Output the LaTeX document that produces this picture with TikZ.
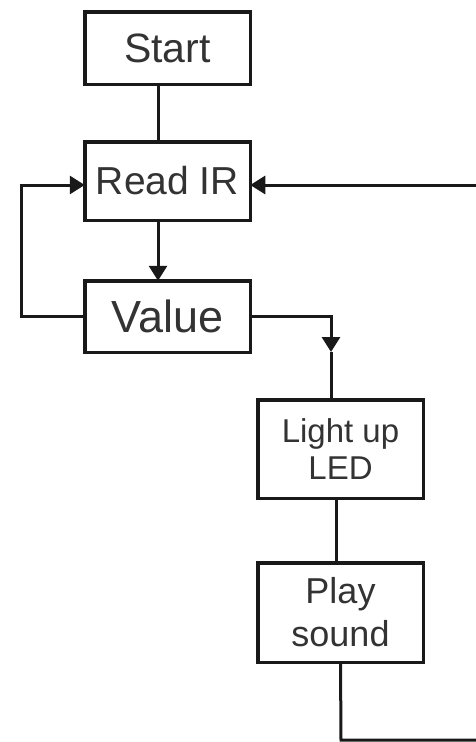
\documentclass[tikz,border=0pt]{standalone}
\usepackage{fontspec}
\setmainfont{Liberation Sans}
\usetikzlibrary{arrows.meta,positioning}

\begin{document}
\begin{tikzpicture}[
    x=1pt, y=-1pt,
    box/.style={draw=black!90, line width=3.5pt, rectangle, minimum width=165.5pt, outer sep=0pt, inner sep=0pt, align=center, text=black!80},
    line/.style={draw=black!90, line width=3pt},
    arrow/.style={line, -{Triangle[length=15pt, width=18pt]}}
]
  \useasboundingbox (0,0) rectangle (476,742);

  % Nodes
  \node (start) [box, minimum height=72.5pt, font=\fontsize{41}{45}\selectfont] at (167.5,48) {Start};
  \node (read) [box, minimum height=78.5pt, font=\fontsize{39}{43}\selectfont, below=57.5pt of start] {Read IR};
  \node (value) [box, minimum height=71.5pt, font=\fontsize{45}{49}\selectfont, below=60.5pt of read] {Value};
  \node (led) [box, minimum height=98.5pt, font=\fontsize{33}{37}\selectfont, below right=47.5pt and 7.5pt of value] {Light up\\LED};
  \node (play) [box, minimum height=99.5pt, font=\fontsize{36}{43}\selectfont, below=64.5pt of led] {Play\\sound};

  % Loose ends at the picture border
  \coordinate (back) at (476,185);
  \coordinate (left) at (21,185);
  \coordinate (down) at (341,740);
  \coordinate (out) at (476,740);
  \coordinate (mid) at (331,352);

  % Arrows
  \draw [line] ([xshift=-9.5pt]start.south) -- ([xshift=-9.5pt]read.north);
  \draw [arrow] ([xshift=-9.5pt]read.south) -- ([xshift=-9.5pt]value.north);
  \draw [arrow] (value.west) -| (left) -- ([yshift=-4pt]read.west);
  \draw [arrow] (back) -- ([yshift=-4pt]read.east);
  \draw [arrow] (value.east) -| (mid);
  \draw [line] (mid) -- (mid |- led.north);
  \draw [line] ([xshift=-4.5pt]led.south) -- ([xshift=-4.5pt]play.north);
  \draw [line] (play.south) -- (down) -- (out);

\end{tikzpicture}
\end{document}
